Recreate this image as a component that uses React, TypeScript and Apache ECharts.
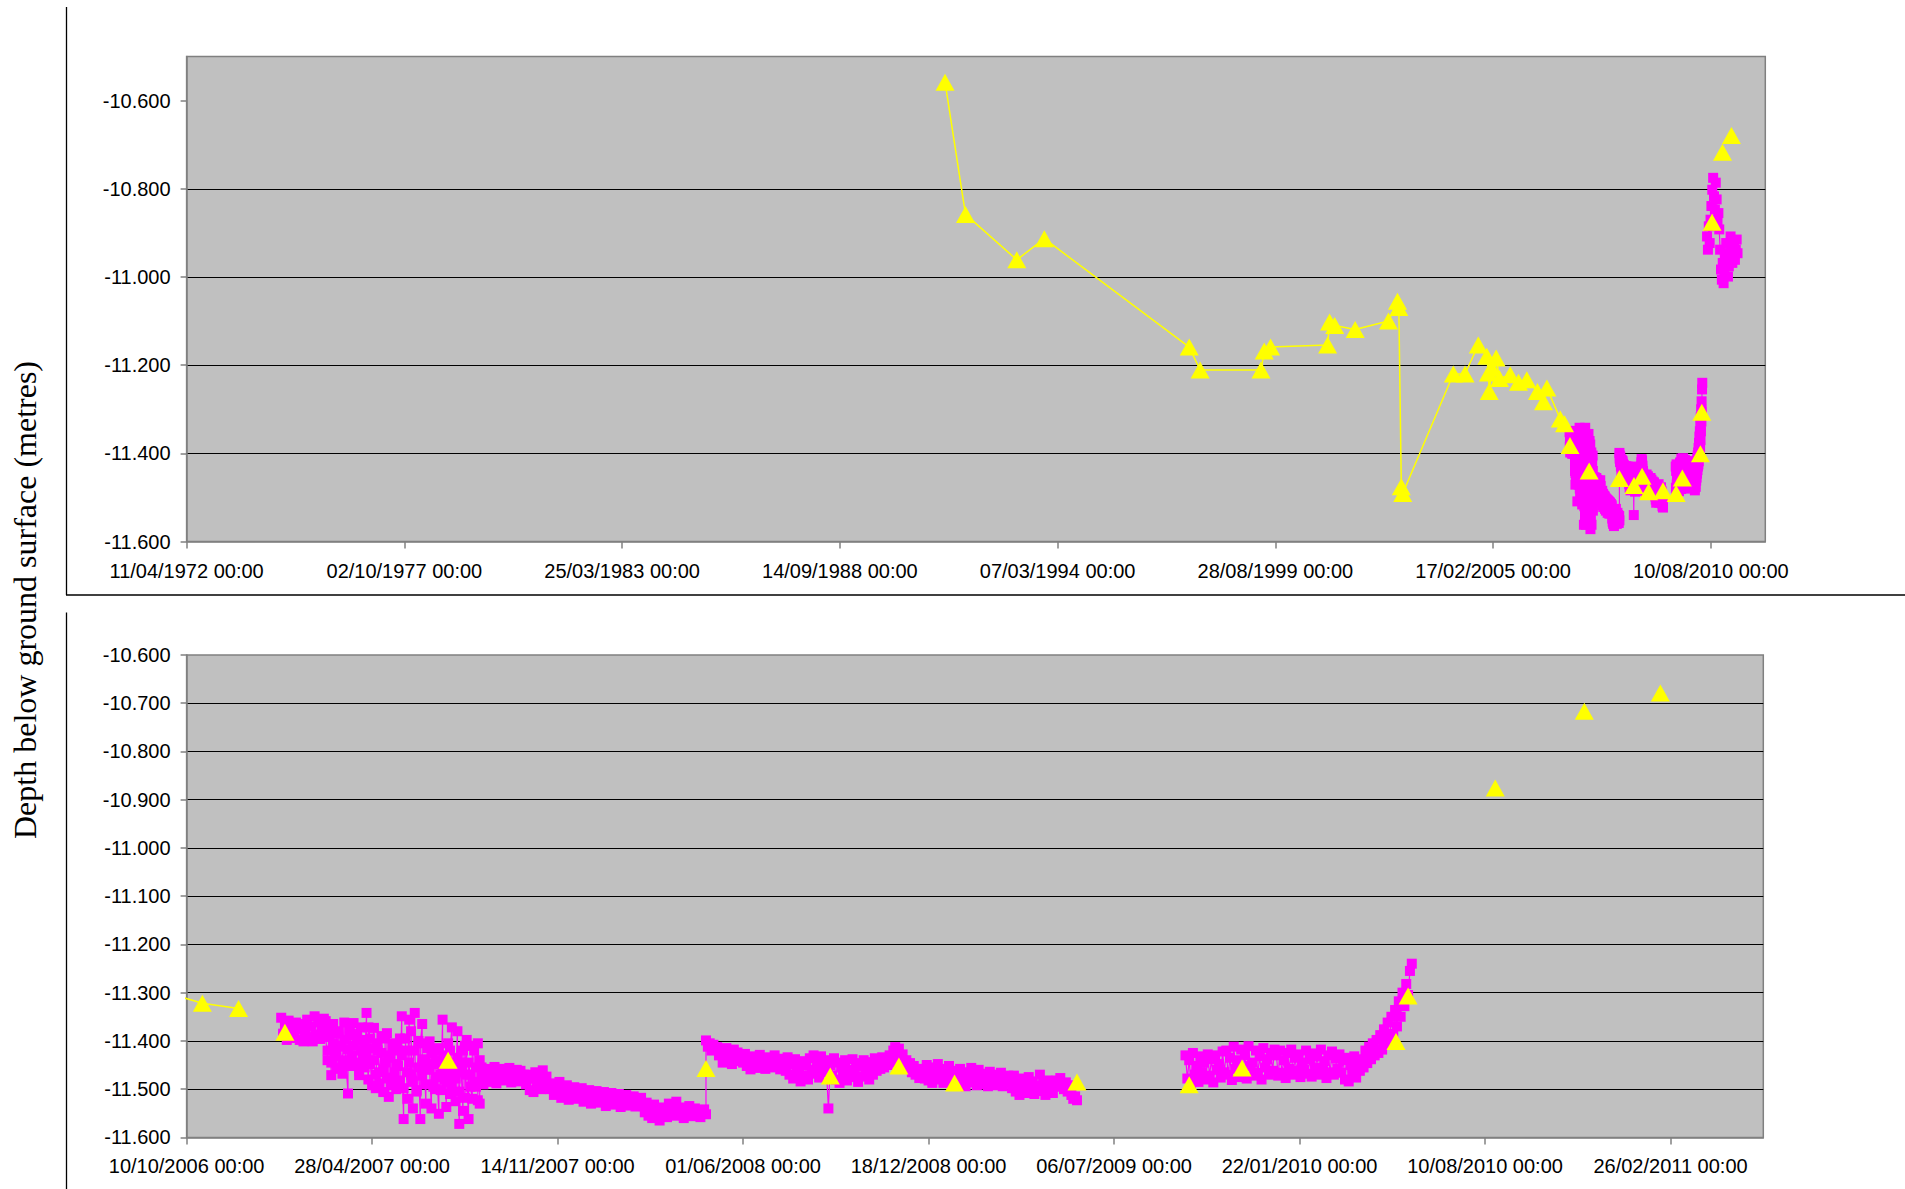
import React, { useEffect, useRef } from "react";
import * as echarts from "echarts";

// ---------- axes ----------
const UPPER_X_ORIGIN = "1972-04-11";
const UPPER_X_MAX_DAYS = 14500;
const UPPER_X_TICK_DAYS = [0, 2000, 4000, 6000, 8000, 10000, 12000, 14000];
const LOWER_X_ORIGIN = "2006-10-10";
const LOWER_X_MAX_DAYS = 1700;
const LOWER_X_TICK_DAYS = [0, 200, 400, 600, 800, 1000, 1200, 1400, 1600];
const UPPER_Y_TICKS = [-11.6, -11.4, -11.2, -11.0, -10.8, -10.6];
const LOWER_Y_TICKS = [-11.6, -11.5, -11.4, -11.3, -11.2, -11.1, -11.0, -10.9, -10.8, -10.7, -10.6];

// ---------- manual dips (yellow, joined) ----------
const MANUAL_DATES = [
  "1991-05-08", "1991-11-12", "1993-02-25", "1993-11-05", "1997-06-28", "1997-10-06",
  "1999-04-18", "1999-05-18", "1999-07-15", "2000-12-20", "2001-01-07", "2001-02-23",
  "2001-08-30", "2002-07-02", "2002-09-23", "2002-10-05", "2002-10-28", "2002-11-10",
  "2004-02-18", "2004-06-04", "2004-10-04", "2004-12-21", "2005-01-05", "2005-01-12",
  "2005-02-06", "2005-03-17", "2005-04-16", "2005-07-24", "2005-10-08", "2005-12-24",
  "2006-03-31", "2006-05-26", "2006-06-26", "2006-10-27", "2006-12-05",
];
const MANUAL_DEPTHS = [
  -10.558, -10.858, -10.961, -10.913, -11.159, -11.211,
  -11.211, -11.168, -11.159, -11.154, -11.102, -11.110,
  -11.119, -11.100, -11.055, -11.069, -11.476, -11.491,
  -11.220, -11.220, -11.154, -11.180, -11.218, -11.260,
  -11.207, -11.184, -11.230, -11.222, -11.239, -11.233,
  -11.260, -11.283, -11.252, -11.322, -11.333,
];

// ---------- manual dips during logger period (yellow, unjoined) ----------
const CHECK_DATES = [
  "2007-01-24", "2007-07-19", "2008-04-22", "2008-09-03", "2008-11-16", "2009-01-15",
  "2009-05-27", "2009-09-25", "2009-11-21", "2010-05-06", "2010-05-19", "2010-08-21",
  "2010-11-25", "2011-02-15",
];
const CHECK_DEPTHS = [
  -11.382, -11.440, -11.457, -11.473, -11.452, -11.487,
  -11.485, -11.491, -11.456, -11.401, -11.307, -10.876,
  -10.717, -10.679,
];

// ---------- logger readings (magenta) ----------
const LOGGER_A_START = "2007-01-20";
const LOGGER_A_STEP_DAYS = 2;
const LOGGER_A = [
  -11.352, -11.385, -11.366, -11.398, -11.358, -11.380, -11.372, -11.394, -11.362,
  -11.376, -11.398, -11.365, -11.401, -11.384, -11.356, -11.392, -11.370, -11.401, -11.349, -11.388, -11.362, -11.396, -11.378, -11.354,
  -11.359, -11.440, -11.392, -11.471, -11.365, -11.425, -11.455, -11.380,
  -11.410, -11.468, -11.362, -11.445, -11.509, -11.389, -11.430,
  -11.363, -11.452, -11.400, -11.471, -11.372, -11.438, -11.415,
  -11.342, -11.480, -11.395, -11.492,
  -11.373, -11.498, -11.420, -11.465, -11.390, -11.506, -11.445,
  -11.384, -11.516, -11.430, -11.476, -11.405, -11.500, -11.452, -11.395,
  -11.349, -11.562, -11.420, -11.520, -11.356, -11.470, -11.540,
  -11.342, -11.505, -11.400, -11.562, -11.365, -11.455, -11.530, -11.415,
  -11.401, -11.540, -11.448, -11.500, -11.420, -11.551, -11.470,
  -11.356, -11.480, -11.537, -11.405, -11.510, -11.372, -11.460, -11.525,
  -11.380, -11.572, -11.445, -11.545, -11.410,
  -11.398, -11.562, -11.470, -11.520, -11.420, -11.495,
  -11.405, -11.530, -11.455, -11.490,
  -11.470, -11.458, -11.485, -11.462, -11.478, -11.454, -11.488, -11.466, -11.475, -11.458, -11.482,
  -11.464, -11.476, -11.456, -11.486, -11.468, -11.474, -11.460, -11.484, -11.462, -11.478, -11.470,
  -11.490, -11.470, -11.502, -11.478, -11.506, -11.465, -11.495, -11.480, -11.500, -11.461, -11.488, -11.474, -11.492,
  -11.500, -11.488, -11.512, -11.495, -11.505, -11.485, -11.518, -11.498, -11.510, -11.492, -11.522, -11.502,
  -11.515, -11.496, -11.520, -11.505, -11.512, -11.498, -11.526, -11.508, -11.518, -11.502, -11.530, -11.512,
  -11.515, -11.504, -11.528, -11.510, -11.522, -11.506, -11.535, -11.514, -11.526, -11.508, -11.532, -11.518, -11.525,
  -11.510, -11.537, -11.520, -11.528, -11.512, -11.534, -11.516, -11.530, -11.515, -11.536, -11.522, -11.530, -11.518,
  -11.535, -11.548, -11.528, -11.555, -11.540, -11.560, -11.532, -11.550, -11.544, -11.565, -11.538, -11.552,
  -11.546, -11.558, -11.530, -11.548, -11.540, -11.555, -11.526, -11.545, -11.552, -11.538, -11.560, -11.542,
  -11.550, -11.535, -11.556, -11.546, -11.540, -11.552, -11.544, -11.558, -11.548, -11.542, -11.552,
];
// extra readings in the noisy spring/summer 2007 period (odd days)
const LOGGER_A2_START = "2007-03-09";
const LOGGER_A2_STEP_DAYS = 2;
const LOGGER_A2 = [
  -11.392, -11.420, -11.378, -11.445, -11.405, -11.432, -11.385, -11.458, -11.412, -11.440, -11.398, -11.452, -11.418, -11.375, -11.436,
  -11.410, -11.445, -11.385, -11.462, -11.420, -11.398, -11.455, -11.430, -11.372, -11.448, -11.415,
  -11.440, -11.470, -11.405, -11.488, -11.425, -11.460, -11.395, -11.478, -11.435, -11.492, -11.412, -11.465, -11.448, -11.420, -11.482,
  -11.430, -11.498, -11.395, -11.465, -11.445, -11.380, -11.485, -11.420, -11.502, -11.455, -11.405, -11.472, -11.438, -11.490, -11.415,
  -11.460, -11.425, -11.495, -11.440, -11.475, -11.415, -11.502, -11.450, -11.430, -11.485, -11.468, -11.420, -11.495, -11.445, -11.478,
  -11.435, -11.505, -11.460, -11.420, -11.518, -11.470, -11.445, -11.495, -11.410, -11.485, -11.455, -11.523, -11.440, -11.475, -11.462,
];
const LOGGER_B_START = "2008-04-22";
const LOGGER_B_STEP_DAYS = 2;
const LOGGER_B = [
  -11.399, -11.412, -11.405, -11.420, -11.408, -11.418,
  -11.413, -11.430, -11.420, -11.445, -11.425, -11.415, -11.440, -11.428, -11.448, -11.418, -11.436, -11.424, -11.442,
  -11.430, -11.445, -11.427, -11.452, -11.436, -11.459, -11.432, -11.448, -11.440, -11.456, -11.429, -11.450,
  -11.438, -11.458, -11.434, -11.446, -11.442, -11.455, -11.430, -11.452, -11.437, -11.459, -11.444,
  -11.440, -11.462, -11.434, -11.470, -11.448, -11.478, -11.438, -11.466, -11.455, -11.484, -11.442, -11.472,
  -11.450, -11.480, -11.436, -11.468, -11.430, -11.460, -11.445, -11.476, -11.432, -11.458, -11.440, -11.465, -11.540,
  -11.450, -11.472, -11.436, -11.480, -11.445, -11.487, -11.455, -11.470, -11.440, -11.482, -11.460, -11.475,
  -11.438, -11.468, -11.452, -11.485, -11.446, -11.474, -11.440, -11.466, -11.456, -11.480, -11.444, -11.470,
  -11.436, -11.462, -11.448, -11.458, -11.434, -11.455, -11.440, -11.450,
  -11.430, -11.445, -11.420, -11.413, -11.425, -11.416, -11.435, -11.428, -11.450,
  -11.440, -11.458, -11.446, -11.465, -11.452, -11.470, -11.458, -11.477, -11.462,
  -11.460, -11.478, -11.450, -11.482, -11.468, -11.487, -11.455, -11.475, -11.448,
  -11.480, -11.465, -11.487, -11.458, -11.472, -11.452, -11.484, -11.466, -11.478,
  -11.462, -11.480, -11.458, -11.488, -11.470, -11.494, -11.465, -11.478, -11.456, -11.486, -11.472, -11.492, -11.460, -11.482,
  -11.468, -11.490, -11.475, -11.494, -11.464, -11.484, -11.470, -11.492, -11.478, -11.488, -11.466, -11.494, -11.476, -11.486, -11.472,
  -11.480, -11.498, -11.472, -11.505, -11.486, -11.512, -11.478, -11.495, -11.490, -11.508, -11.475, -11.500,
  -11.484, -11.510, -11.492, -11.504, -11.470, -11.498, -11.488, -11.512, -11.482, -11.502, -11.494, -11.508, -11.486,
  -11.482, -11.495, -11.477, -11.490, -11.500, -11.486, -11.505, -11.492, -11.512, -11.520, -11.515, -11.523,
];
const LOGGER_C_START = "2009-09-21";
const LOGGER_C_STEP_DAYS = 2;
const LOGGER_C = [
  -11.430, -11.478, -11.440, -11.488, -11.425, -11.470, -11.452, -11.485, -11.432, -11.465, -11.445,
  -11.480, -11.428, -11.472, -11.438, -11.486, -11.430, -11.460, -11.448, -11.476, -11.422, -11.465,
  -11.420, -11.470, -11.435, -11.481, -11.412, -11.458, -11.440, -11.475, -11.418, -11.462, -11.430, -11.478, -11.411, -11.452,
  -11.445, -11.472, -11.420, -11.466, -11.432, -11.480, -11.415, -11.455, -11.438, -11.470, -11.425, -11.462, -11.418,
  -11.430, -11.472, -11.420, -11.466, -11.440, -11.477, -11.425, -11.458, -11.418, -11.470, -11.435, -11.462,
  -11.428, -11.475, -11.445, -11.460, -11.420, -11.468, -11.438, -11.474, -11.426, -11.456, -11.432, -11.470,
  -11.418, -11.462, -11.442, -11.477, -11.430, -11.465, -11.422, -11.470, -11.436, -11.458, -11.428, -11.466,
  -11.440, -11.480, -11.435, -11.484, -11.450, -11.470, -11.432, -11.476, -11.445, -11.462, -11.438, -11.455,
  -11.420, -11.446, -11.412, -11.438, -11.405, -11.430, -11.398, -11.425, -11.388, -11.418, -11.376, -11.405, -11.362, -11.395,
  -11.350, -11.385, -11.336, -11.370, -11.318, -11.350, -11.300, -11.328, -11.282, -11.305, -11.255, -11.240,
];
const LOGGER_D_START = "2010-07-06";
const LOGGER_D_STEP_DAYS = 8;
const LOGGER_D = [
  -10.908, -10.938, -10.885, -10.923, -10.870, -10.839, -10.802, -10.775, -10.817, -10.847,
  -10.786, -10.824, -10.877, -10.855, -10.892, -10.938, -10.983, -11.006, -10.968, -11.014,
  -10.991, -10.953, -10.923, -10.961, -10.999, -10.976, -10.946, -10.908, -10.938, -10.968,
  -10.953, -10.923, -10.961, -10.938, -10.915, -10.946,
];

// ---------- helpers ----------
const DAY_MS = 86400000;
const toMs = (iso: string) => {
  const [y, m, d] = iso.split("-").map(Number);
  return Date.UTC(y, m - 1, d);
};
const daysFrom = (ms: number, origin: string) => Math.round((ms - toMs(origin)) / DAY_MS);
const pad = (n: number) => (n < 10 ? "0" + n : "" + n);
const dateLabel = (days: number, origin: string) => {
  const d = new Date(toMs(origin) + days * DAY_MS);
  return `${pad(d.getUTCDate())}/${pad(d.getUTCMonth() + 1)}/${d.getUTCFullYear()} 00:00`;
};
const pairs = (dates: string[], vals: number[], origin: string) =>
  dates.map((s, i) => [daysFrom(toMs(s), origin), vals[i]]);
const logger = (start: string, step: number, vals: number[], origin: string) =>
  vals.map((v, i) => [daysFrom(toMs(start) + i * step * DAY_MS, origin), v]);

const MAGENTA = "#ff00ff";
const YELLOW = "#ffff00";
const SANS = "'Liberation Sans', Arial, sans-serif";

function buildOption() {
  const grids = [
    { left: 186.6, top: 56.6, width: 1578.7, height: 484.9 },
    { left: 186.6, top: 654.9, width: 1576.7, height: 482.5 },
  ].map((g) => ({
    ...g,
    show: true,
    backgroundColor: "#c0c0c0",
    borderColor: "#808080",
    borderWidth: 1.5,
  }));

  const xAxis = (gridIndex: number, max: number, ticks: number[], origin: string) => ({
    type: "value",
    gridIndex,
    min: 0,
    max,
    interval: ticks[1] - ticks[0],
    axisLine: { show: true, onZero: false, lineStyle: { color: "#808080", width: 1.5 } },
    axisTick: { show: true, length: 7, customValues: ticks, lineStyle: { color: "#808080", width: 1.5 } },
    axisLabel: {
      customValues: ticks,
      formatter: (v: number) => dateLabel(v, origin),
      margin: 19,
      color: "#000",
      fontFamily: SANS,
      fontSize: 20,
    },
    splitLine: { show: false },
  });

  const yAxis = (gridIndex: number, min: number, max: number, interval: number, ticks: number[]) => ({
    type: "value",
    gridIndex,
    min,
    max,
    interval,
    axisLine: { show: true, onZero: false, lineStyle: { color: "#808080", width: 1.5 } },
    axisTick: { show: true, length: 6, customValues: ticks, lineStyle: { color: "#808080", width: 1.5 } },
    axisLabel: {
      customValues: ticks,
      formatter: (v: number) => v.toFixed(3),
      margin: 16,
      color: "#000",
      fontFamily: SANS,
      fontSize: 20,
    },
    splitLine: { show: true, showMinLine: false, showMaxLine: false, lineStyle: { color: "#000", width: 1 } },
  });

  const loggerSeries = (idx: number, data: number[][]) => ({
    type: "line",
    xAxisIndex: idx,
    yAxisIndex: idx,
    data,
    symbol: "rect",
    symbolSize: 10,
    showAllSymbol: true,
    itemStyle: { color: MAGENTA, borderWidth: 0 },
    lineStyle: { color: MAGENTA, width: 1.2 },
    z: 2,
    silent: true,
  });
  const manualSeries = (idx: number, data: number[][]) => ({
    type: "line",
    xAxisIndex: idx,
    yAxisIndex: idx,
    data,
    symbol: "triangle",
    symbolSize: [19, 17],
    showAllSymbol: true,
    itemStyle: { color: YELLOW, borderWidth: 0 },
    lineStyle: { color: YELLOW, width: 1.5 },
    z: 3,
    silent: true,
  });
  const checkSeries = (idx: number, data: number[][]) => ({
    type: "scatter",
    xAxisIndex: idx,
    yAxisIndex: idx,
    data,
    symbol: "triangle",
    symbolSize: [19, 17],
    itemStyle: { color: YELLOW, opacity: 1 },
    z: 3,
    silent: true,
  });

  const series: any[] = [];
  [UPPER_X_ORIGIN, LOWER_X_ORIGIN].forEach((origin, idx) => {
    const a = logger(LOGGER_A_START, LOGGER_A_STEP_DAYS, LOGGER_A, origin)
      .concat(logger(LOGGER_A2_START, LOGGER_A2_STEP_DAYS, LOGGER_A2, origin))
      .sort((p, q) => p[0] - q[0]);
    const ab = a.concat(logger(LOGGER_B_START, LOGGER_B_STEP_DAYS, LOGGER_B, origin));
    series.push(loggerSeries(idx, ab));
    series.push(loggerSeries(idx, logger(LOGGER_C_START, LOGGER_C_STEP_DAYS, LOGGER_C, origin)));
    if (idx === 0) {
      series.push(loggerSeries(idx, logger(LOGGER_D_START, LOGGER_D_STEP_DAYS, LOGGER_D, origin)));
    }
    series.push(manualSeries(idx, pairs(MANUAL_DATES, MANUAL_DEPTHS, origin)));
    series.push(checkSeries(idx, pairs(CHECK_DATES, CHECK_DEPTHS, origin)));
  });

  const frame = { stroke: "#000", lineWidth: 1.3 };

  return {
    animation: false,
    backgroundColor: "#ffffff",
    grid: grids,
    xAxis: [
      xAxis(0, UPPER_X_MAX_DAYS, UPPER_X_TICK_DAYS, UPPER_X_ORIGIN),
      xAxis(1, LOWER_X_MAX_DAYS, LOWER_X_TICK_DAYS, LOWER_X_ORIGIN),
    ],
    yAxis: [
      yAxis(0, -11.6, -10.5, 0.2, UPPER_Y_TICKS),
      yAxis(1, -11.6, -10.6, 0.1, LOWER_Y_TICKS),
    ],
    series,
    graphic: [
      { type: "line", shape: { x1: 66.5, y1: 7, x2: 66.5, y2: 595 }, style: frame, silent: true },
      { type: "line", shape: { x1: 66, y1: 595, x2: 1905, y2: 595 }, style: frame, silent: true },
      { type: "line", shape: { x1: 66.5, y1: 612.5, x2: 66.5, y2: 1189 }, style: frame, silent: true },
      {
        type: "text",
        x: 25,
        y: 600,
        rotation: Math.PI / 2,
        silent: true,
        style: {
          text: "Depth below ground surface (metres)",
          fill: "#000",
          fontSize: 32,
          fontFamily: "'Liberation Serif', 'Times New Roman', serif",
          align: "center",
          verticalAlign: "middle",
        },
      },
    ],
  };
}

export default function App() {
  const ref = useRef<HTMLDivElement>(null);
  useEffect(() => {
    if (!ref.current) return;
    const chart = echarts.init(ref.current, undefined, { renderer: "svg" });
    chart.setOption(buildOption() as any);
    return () => chart.dispose();
  }, []);
  return (
    <div
      ref={ref}
      style={{ position: "absolute", left: 0, top: 0, width: 1905, height: 1189, background: "#fff" }}
    />
  );
}
